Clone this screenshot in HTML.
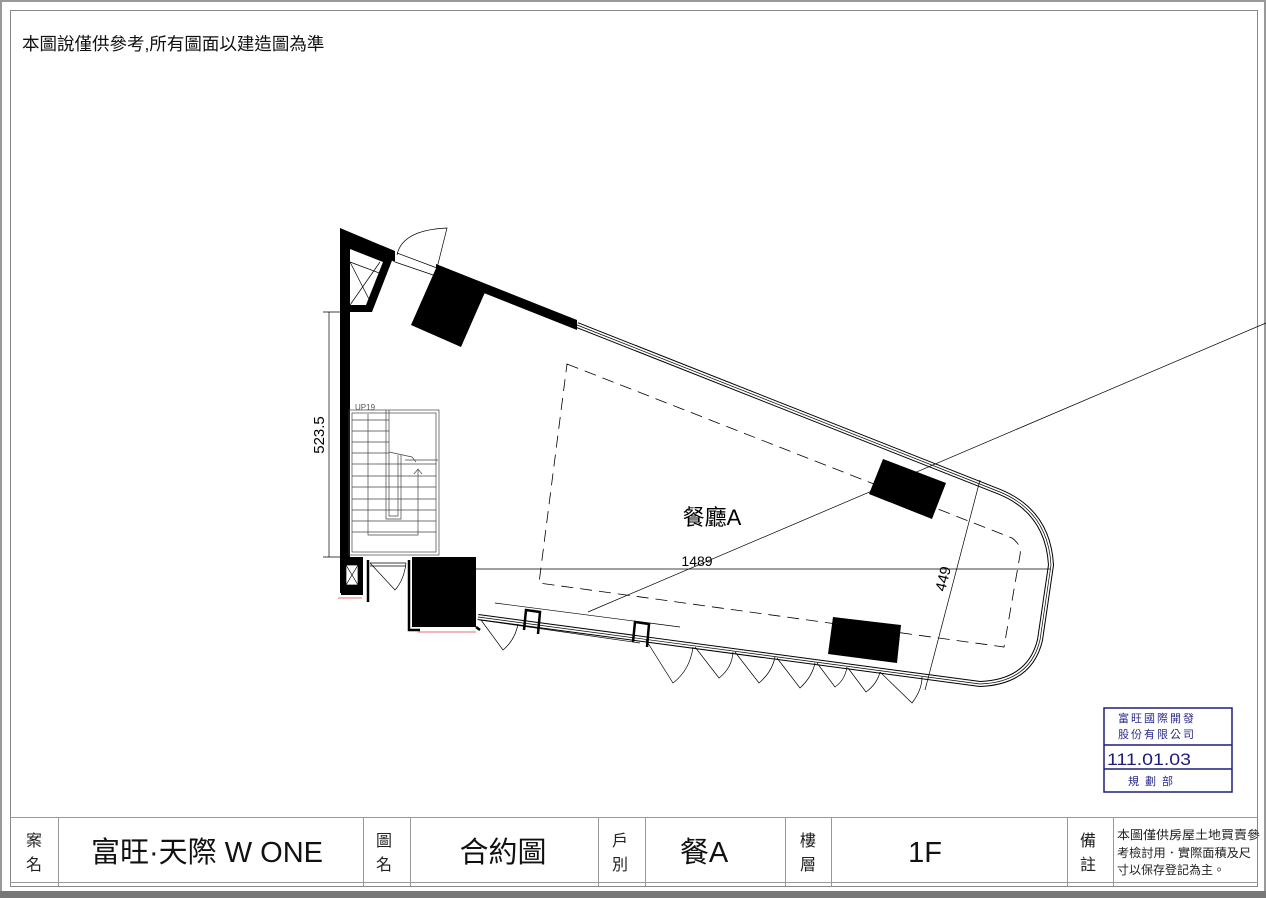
<!DOCTYPE html>
<html><head><meta charset="utf-8"><style>
html,body{margin:0;padding:0;background:#fff;}
svg{display:block;}
text{font-family:"Liberation Sans","Noto Sans CJK TC",sans-serif;}
</style></head><body>
<svg width="1266" height="898" viewBox="0 0 1266 898" xmlns="http://www.w3.org/2000/svg">
<rect x="0" y="0" width="1266" height="898" fill="#fff"/>
<rect x="1" y="1" width="1264" height="895" fill="none" stroke="#999" stroke-width="2"/>
<rect x="10.5" y="10.5" width="1247" height="876" fill="none" stroke="#888" stroke-width="1"/>
<rect x="0" y="891" width="1266" height="7" fill="#777"/>
<text x="22" y="50" font-size="17.5" fill="#111">本圖說僅供參考,所有圖面以建造圖為準</text>

<g fill="none">
<path d="M577,325 L1000,492 Q1048,512 1051,565 L1040,640 Q1030,682 980,684 L478,617" stroke="#000" stroke-width="6"/>
<path d="M577,325 L1000,492 Q1048,512 1051,565 L1040,640 Q1030,682 980,684 L478,617" stroke="#fff" stroke-width="4"/>
<path d="M577,325 L1000,492 Q1048,512 1051,565 L1040,640 Q1030,682 980,684 L478,617" stroke="#000" stroke-width="0.7"/>
</g>
<polygon points="340,228 395,251 395,262 350,243 350,593 340,593" fill="#000"/>
<polygon points="436,264 577,320 577,330 436,274" fill="#000"/>
<polygon points="350,240 393,258 372,312 350,312 350,305 366,305 383,262 350,249" fill="#000"/>
<g stroke="#000" stroke-width="0.7" fill="none">
<line x1="350" y1="262" x2="372" y2="305"/><line x1="350" y1="305" x2="380" y2="262"/>
<line x1="350" y1="262" x2="382" y2="274"/>
<path d="M397,253 L437,268"/><path d="M395,262 L436,276"/>
<path d="M397,255 Q402,230 447,228 L437,268"/>
</g>
<polygon points="437,266 486,290 461,347 411,325" fill="#000"/>
<polygon points="883,459 946,483 932,519 869,494" fill="#000"/>
<polygon points="833,617 901,625 897,663 828,654" fill="#000"/>
<rect x="412" y="557" width="64" height="70" fill="#000"/>
<g stroke="#000" stroke-width="2.5" fill="none">
<path d="M409,560 L409,630 L420,630"/><path d="M476,627 L480,630"/>
<path d="M524,630 L526,610 L540,612 L538,634"/>
<path d="M633,642 L635,622 L649,624 L647,647"/>
</g>
<rect x="341" y="557" width="22" height="38" fill="#000"/>
<rect x="346" y="565" width="12" height="20" fill="#fff" stroke="#000" stroke-width="0.7"/>
<path d="M346,565 L358,585 M358,565 L346,585" stroke="#000" stroke-width="0.7"/>
<path d="M368,560 L368,602" stroke="#000" stroke-width="2.5"/>
<g stroke="#000" stroke-width="0.7" fill="none">
<path d="M370,563 L406,563 M370,566 L406,566"/>
<path d="M370,563 L395,590 Q404,580 406,563"/>
</g>
<path d="M338,598 L362,598 M418,632 L476,632" stroke="#d44" stroke-width="0.8"/>
<g stroke="#444" stroke-width="0.7" fill="none">
<rect x="349" y="410" width="90" height="145"/>
<rect x="352" y="413" width="84" height="139"/>
<line x1="352" y1="420" x2="389" y2="420"/><line x1="352" y1="431" x2="389" y2="431"/><line x1="352" y1="442" x2="389" y2="442"/><line x1="352" y1="453" x2="389" y2="453"/>
<line x1="352" y1="464" x2="436" y2="464"/><line x1="352" y1="476" x2="436" y2="476"/><line x1="352" y1="487" x2="436" y2="487"/><line x1="352" y1="499" x2="436" y2="499"/><line x1="352" y1="510" x2="436" y2="510"/><line x1="352" y1="521" x2="436" y2="521"/><line x1="352" y1="532" x2="436" y2="532"/>
<path d="M386,410 L386,519 L401,519 L401,455"/><path d="M389,410 L389,516 L398,516 L398,455"/>
<path d="M368,414 L368,535 L418,535 L418,470 M414,474 L418,469 L422,474"/>
<path d="M389,452 L412,457 L416,462 M405,460 L438,460"/>
</g>
<text x="355" y="410" font-size="8" fill="#555">UP19</text>
<path d="M567,364 L1012,538 Q1022,545 1020,555 L1004,647 L539,583 Z" fill="none" stroke="#000" stroke-width="0.8" stroke-dasharray="12,7"/>
<g stroke="#000" stroke-width="0.7" fill="none">
<line x1="495" y1="603" x2="680" y2="627"/><line x1="480" y1="620" x2="640" y2="643"/>
<line x1="588" y1="612" x2="1266" y2="323"/>
<line x1="412" y1="569" x2="1050" y2="569"/>
<line x1="329" y1="312" x2="329" y2="557"/><line x1="323" y1="312" x2="340" y2="312"/><line x1="323" y1="557" x2="340" y2="557"/>
<line x1="980" y1="480" x2="925" y2="690"/>
</g>
<g stroke="#000" stroke-width="0.7" fill="none">
<path d="M481,620 L503,650 Q515,640 518,624"/>
<path d="M646,640 L673,683 Q690,670 693,647"/>
<path d="M695,647 L719,678 Q732,668 733,652"/>
<path d="M735,652 L759,683 Q772,672 775,657"/>
<path d="M777,658 L800,688 Q812,677 815,663"/>
<path d="M817,663 L835,687 Q845,680 847,667"/>
<path d="M848,668 L866,692 Q877,684 880,672"/>
<path d="M880,672 L912,703 Q922,690 922,677"/>
</g>
<text x="697" y="566" font-size="14" text-anchor="middle" fill="#000">1489</text>
<text transform="translate(324,435) rotate(-90)" font-size="15" text-anchor="middle" fill="#000">523.5</text>
<text transform="translate(948,580) rotate(-76)" font-size="15" text-anchor="middle" fill="#000">449</text>
<text x="712" y="525" font-size="22" text-anchor="middle" fill="#000">餐廳A</text>

<g stroke="#1e1e7a" fill="none" stroke-width="1.5">
<rect x="1104" y="708" width="128" height="84"/>
<line x1="1104" y1="745" x2="1232" y2="745"/><line x1="1104" y1="769" x2="1232" y2="769"/>
</g>
<text x="1118" y="722" font-size="11" fill="#2a2a8a" letter-spacing="2">富旺國際開發</text>
<text x="1118" y="738" font-size="11" fill="#2a2a8a" letter-spacing="2">股份有限公司</text>
<text x="1107" y="765" font-size="17" fill="#1e1e7a" textLength="84" lengthAdjust="spacingAndGlyphs">111.01.03</text>
<text x="1128" y="785" font-size="11" fill="#2a2a8a" letter-spacing="6">規劃部</text>

<g stroke="#999" stroke-width="1" fill="none">
<line x1="10" y1="817.5" x2="1258" y2="817.5"/>
<line x1="10" y1="882.5" x2="1258" y2="882.5"/>
<line x1="58.5" y1="817" x2="58.5" y2="886"/><line x1="363.5" y1="817" x2="363.5" y2="886"/>
<line x1="410.5" y1="817" x2="410.5" y2="886"/><line x1="598.5" y1="817" x2="598.5" y2="886"/>
<line x1="645.5" y1="817" x2="645.5" y2="886"/><line x1="785.5" y1="817" x2="785.5" y2="886"/>
<line x1="831.5" y1="817" x2="831.5" y2="886"/><line x1="1067.5" y1="817" x2="1067.5" y2="886"/>
<line x1="1113.5" y1="817" x2="1113.5" y2="886"/>
</g>
<g font-size="16" fill="#222" text-anchor="middle">
<text x="34" y="846">案</text><text x="34" y="870">名</text>
<text x="384" y="846">圖</text><text x="384" y="870">名</text>
<text x="620" y="846">戶</text><text x="620" y="870">別</text>
<text x="808" y="846">樓</text><text x="808" y="870">層</text>
<text x="1088" y="846">備</text><text x="1088" y="870">註</text>
</g>
<g font-size="29" fill="#111" text-anchor="middle">
<text x="207" y="862">富旺·天際 W ONE</text>
<text x="503" y="862">合約圖</text>
<text x="704" y="862">餐A</text>
<text x="925" y="862">1F</text>
</g>
<g font-size="12" fill="#222">
<text x="1117" y="839" textLength="143" lengthAdjust="spacingAndGlyphs">本圖僅供房屋土地買賣參</text>
<text x="1117" y="857" textLength="134" lengthAdjust="spacingAndGlyphs">考檢討用．實際面積及尺</text>
<text x="1117" y="874">寸以保存登記為主。</text>
</g>
</svg>
</body></html>
